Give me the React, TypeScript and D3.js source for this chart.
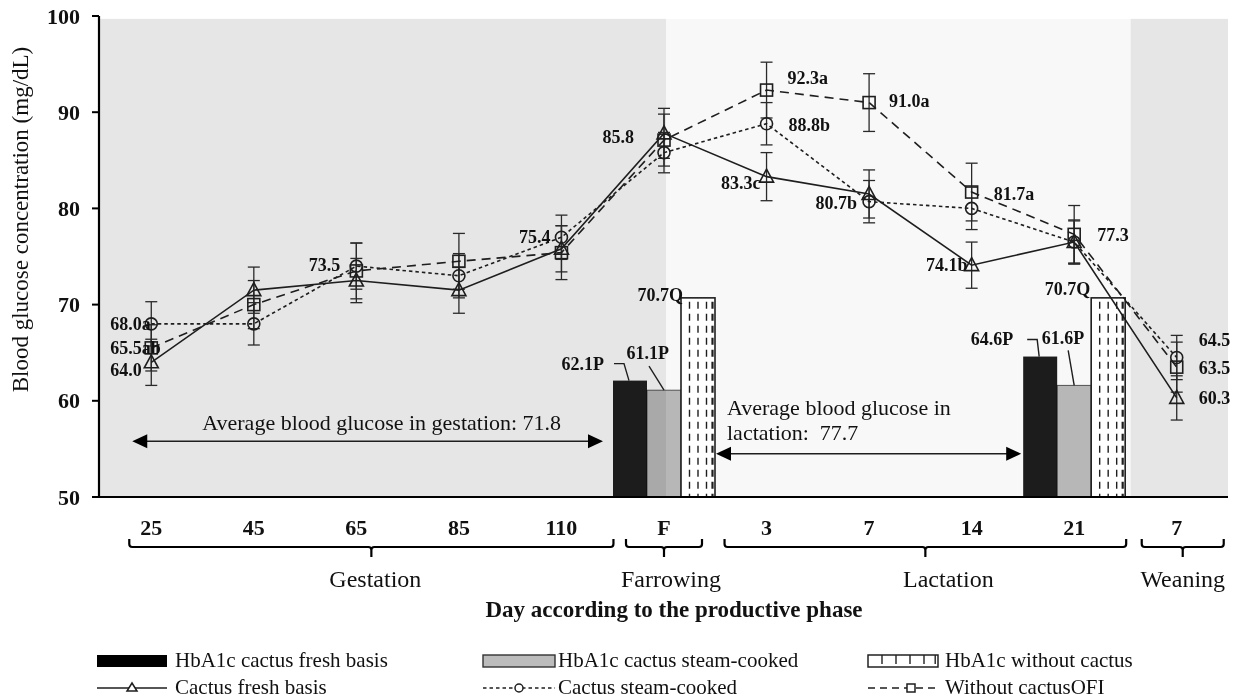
import React from "react";
import * as d3 from "d3";

// ---------- data ----------
const categories = ["25", "45", "65", "85", "110", "F", "3", "7", "14", "21", "7"];
const yTickValues = [50, 60, 70, 80, 90, 100];

const freshBasis = [64.0, 71.5, 72.5, 71.5, 75.8, 87.8, 83.3, 81.5, 74.1, 76.5, 60.3];
const freshErr = [2.4, 2.4, 2.3, 2.4, 2.4, 2.6, 2.5, 2.5, 2.4, 2.3, 2.3];
const steamCooked = [68.0, 68.0, 74.0, 73.0, 77.0, 85.8, 88.8, 80.7, 80.0, 76.5, 64.5];
const steamErr = [2.3, 2.2, 2.4, 2.3, 2.3, 2.1, 2.2, 2.2, 2.2, 2.2, 2.3];
const withoutCactus = [65.5, 70.0, 73.5, 74.5, 75.4, 87.1, 92.3, 91.0, 81.7, 77.3, 63.5];
const withoutErr = [2.4, 2.5, 2.9, 2.9, 2.8, 2.7, 2.9, 3.0, 3.0, 3.0, 2.6];

const hbaCategoryIdx = [5, 9];
const hbaFresh = [62.1, 64.6];
const hbaSteam = [61.1, 61.6];
const hbaWithout = [70.7, 70.7];
const hbaLabelsFresh = ["62.1P", "64.6P"];
const hbaLabelsSteam = ["61.1P", "61.6P"];
const hbaLabelsWithout = ["70.7Q", "70.7Q"];

const phaseNames = ["Gestation", "Farrowing", "Lactation", "Weaning"];
const phaseFirst = [0, 5, 6, 10];
const phaseLast = [4, 5, 9, 10];

const gestationAvg = "Average blood glucose in gestation: 71.8";
const lactationAvg1 = "Average blood glucose in";
const lactationAvg2 = "lactation:  77.7";

const pointLabelTexts = ["68.0a", "65.5ab", "64.0", "73.5", "75.4", "85.8", "92.3a", "88.8b", "83.3c", "91.0a", "80.7b", "81.7a", "74.1b", "77.3", "64.5", "63.5", "60.3"];
const pointLabelSeries = ["steam", "without", "fresh", "without", "without", "steam", "without", "steam", "fresh", "without", "steam", "without", "fresh", "without", "steam", "without", "fresh"];
const pointLabelIdx = [0, 0, 0, 2, 4, 5, 6, 6, 6, 7, 7, 8, 8, 9, 10, 10, 10];

// ---------- layout (offsets only) ----------
const labelLayout: [number, number, string][] = [
  [-41, 6, "start"], [-41, 6, "start"], [-41, 14, "start"], [-16, 0, "end"], [-11, -10, "end"],
  [-30, -10, "end"], [21, -6, "start"], [22, 7, "start"], [-6, 12, "end"], [20, 4, "start"],
  [-12, 7, "end"], [22, 8, "start"], [-4, 6, "end"], [23, 7, "start"], [22, -12, "start"],
  [22, 7, "start"], [22, 6, "start"],
];
const bracketPads: [number, number, number][] = [[22, 52, 4], [38, 38, 7], [42, 52, 23], [35, 47, 0]];

const W = 1246;
const H = 698;
const FONT = "'Liberation Serif', 'Times New Roman', serif";
const INK = "#1e1e1e";

function Marker({ kind, cx, cy }: { kind: string; cx: number; cy: number }) {
  if (kind === "fresh") {
    const s = 7;
    return <path d={`M${cx},${cy - 7.5} L${cx + s},${cy + 5.5} L${cx - s},${cy + 5.5} Z`} fill="none" stroke={INK} strokeWidth={1.6} />;
  }
  if (kind === "steam") return <circle cx={cx} cy={cy} r={6} fill="none" stroke={INK} strokeWidth={1.6} />;
  return <rect x={cx - 6} y={cy - 6} width={12} height={12} fill="none" stroke={INK} strokeWidth={1.6} />;
}

export default function App() {
  const x = d3.scalePoint<number>().domain(d3.range(categories.length)).range([100, 1228]).padding(0.5);
  const step = x.step();
  const y = d3.scaleLinear().domain([50, 100]).range([497, 16]);
  const X = (i: number) => x(i) as number;
  const plotLeft = 99;
  const plotRight = 1228;
  const bw = 34;

  const series = [
    { key: "fresh", values: freshBasis, err: freshErr, dash: undefined as string | undefined },
    { key: "steam", values: steamCooked, err: steamErr, dash: "3.5,3" },
    { key: "without", values: withoutCactus, err: withoutErr, dash: "9,6" },
  ];
  const seriesMap: Record<string, number[]> = { fresh: freshBasis, steam: steamCooked, without: withoutCactus };

  const line = d3.line<number>().x((_, i) => X(i)).y((d) => y(d));

  const lacStart = X(5) + 2;
  const weanStart = X(9) + step * 0.55;
  const shadeTop = y(99.7);

  const barLeft = (ci: number, s: number) => X(ci) - bw * 1.5 + s * bw;

  const gestArrowY = y(55.8);
  const lacArrowY = y(54.5);
  const gx1 = X(0) - 19;
  const gx2 = barLeft(5, 0) - 10;
  const lx1 = barLeft(5, 2) + bw + 1;
  const lx2 = barLeft(9, 0) - 2;
  const head = (tipX: number, yy: number, dir: number) =>
    `M${tipX},${yy} L${tipX - dir * 15},${yy - 7} L${tipX - dir * 15},${yy + 7} Z`;

  const dashedBar = (left: number, v: number, key: string) => {
    const top = y(v);
    const bottom = y(50);
    return (
      <g key={key}>
        <rect x={left} y={top} width={bw} height={bottom - top} fill="#ffffff" stroke={INK} strokeWidth={1.6} />
        {[0.25, 0.5, 0.75].map((f) => (
          <line key={f} x1={left + bw * f} x2={left + bw * f} y1={top + 4} y2={bottom} stroke={INK} strokeWidth={1.4} strokeDasharray="7,5" />
        ))}
        <line x1={left + bw - 2.5} x2={left + bw - 2.5} y1={top + 4} y2={bottom} stroke={INK} strokeWidth={2.2} strokeDasharray="7,5" />
      </g>
    );
  };

  const bracket = (x1: number, x2: number, mid: number) => {
    const yh = 547;
    return `M${x1},539 L${x1},544 Q${x1},${yh} ${x1 + 3},${yh} L${mid - 3},${yh} Q${mid},${yh} ${mid},${yh + 3} L${mid},557 M${mid},${yh + 3} Q${mid},${yh} ${mid + 3},${yh} L${x2 - 3},${yh} Q${x2},${yh} ${x2},544 L${x2},539`;
  };

  const legendTextStyle = { fontFamily: FONT, fontSize: 21, fill: "#111" };

  return (
    <svg width={W} height={H} style={{ position: "absolute", left: 0, top: 0, background: "#fff" }} fontFamily={FONT}>
      {/* background phases */}
      <rect x={plotLeft} y={shadeTop} width={lacStart - plotLeft} height={y(50) - shadeTop} fill="#e6e6e6" />
      <rect x={lacStart} y={shadeTop} width={weanStart - lacStart} height={y(50) - shadeTop} fill="#f8f8f8" />
      <rect x={weanStart} y={shadeTop} width={plotRight - weanStart} height={y(50) - shadeTop} fill="#e6e6e6" />

      {/* HbA1c bars */}
      {hbaCategoryIdx.map((ci, k) => {
        const l0 = barLeft(ci, 0);
        const l1 = barLeft(ci, 1);
        const l2 = barLeft(ci, 2);
        return (
          <g key={"bars" + k}>
            <rect x={l0} y={y(hbaFresh[k])} width={bw} height={y(50) - y(hbaFresh[k])} fill="#1c1c1c" />
            <rect x={l1} y={y(hbaSteam[k])} width={bw} height={y(50) - y(hbaSteam[k])} fill="#bcbcbc" stroke="#555" strokeWidth={1} style={{ mixBlendMode: "multiply" }} />
            {dashedBar(l2, hbaWithout[k], "d" + k)}
          </g>
        );
      })}

      {/* bar labels with leaders */}
      {hbaCategoryIdx.map((ci, k) => {
        const l0 = barLeft(ci, 0);
        const l1 = barLeft(ci, 1);
        const l2 = barLeft(ci, 2);
        const t0 = y(hbaFresh[k]);
        const t1 = y(hbaSteam[k]);
        const t2 = y(hbaWithout[k]);
        const first = k === 0;
        const steamTextDx = first ? 22 : 27;
        const steamTextDy = first ? -31 : -41;
        const steamLead = first ? [2, -24] : [11, -35];
        const fTextDx = first ? -9 : -10;
        const fTextDy = first ? -11 : -12;
        const lead0 = first ? 1 : 4;
        return (
          <g key={"bl" + k} fontWeight="bold" fontSize={18} fill="#111">
            <text x={l0 + fTextDx} y={t0 + fTextDy} textAnchor="end">{hbaLabelsFresh[k]}</text>
            <path d={`M${l0 + lead0},${t0 - 17} L${l0 + lead0 + 10},${t0 - 17} L${l0 + 16},${t0}`} fill="none" stroke={INK} strokeWidth={1.4} />
            <text x={l1 + steamTextDx} y={t1 + steamTextDy} textAnchor="end">{hbaLabelsSteam[k]}</text>
            <path d={`M${l1 + steamLead[0]},${t1 + steamLead[1]} L${l1 + 17},${t1}`} fill="none" stroke={INK} strokeWidth={1.4} />
            <text x={l2 + (first ? 2 : -1)} y={t2 + (first ? 3 : -3)} textAnchor="end">{hbaLabelsWithout[k]}</text>
          </g>
        );
      })}

      {/* axes */}
      <line x1={plotLeft} x2={plotLeft} y1={y(100)} y2={y(50)} stroke="#000" strokeWidth={2.2} />
      <line x1={plotLeft - 1} x2={plotRight} y1={y(50)} y2={y(50)} stroke="#000" strokeWidth={2.2} />
      {yTickValues.map((v) => (
        <g key={"yt" + v}>
          <line x1={plotLeft - 7} x2={plotLeft} y1={y(v)} y2={y(v)} stroke="#000" strokeWidth={2} />
          <text x={80} y={y(v) + 7.5} textAnchor="end" fontWeight="bold" fontSize={22} fill="#111">{v}</text>
        </g>
      ))}
      <text transform={`translate(28,${(y(100) + y(50)) / 2 - 37}) rotate(-90)`} textAnchor="middle" fontSize={23} fill="#111">
        Blood glucose concentration (mg/dL)
      </text>

      {/* arrows */}
      <line x1={gx1 + 10} x2={gx2 - 10} y1={gestArrowY} y2={gestArrowY} stroke={INK} strokeWidth={1.4} />
      <path d={head(gx1, gestArrowY, -1)} fill="#000" />
      <path d={head(gx2, gestArrowY, 1)} fill="#000" />
      <text x={X(0) + 51} y={gestArrowY - 11} fontSize={22} fill="#111">{gestationAvg}</text>
      <line x1={lx1 + 10} x2={lx2 - 10} y1={lacArrowY} y2={lacArrowY} stroke={INK} strokeWidth={1.4} />
      <path d={head(lx1, lacArrowY, -1)} fill="#000" />
      <path d={head(lx2, lacArrowY, 1)} fill="#000" />
      <text x={lx1 + 11} y={lacArrowY - 39} fontSize={22} fill="#111">{lactationAvg1}</text>
      <text x={lx1 + 11} y={lacArrowY - 14} fontSize={22} fill="#111" style={{ whiteSpace: "pre" }}>{lactationAvg2}</text>

      {/* error bars */}
      {series.map((s) =>
        s.values.map((v, i) => {
          const cx = X(i);
          const t = y(v + s.err[i]);
          const b = y(v - s.err[i]);
          return (
            <g key={s.key + "e" + i} stroke="#2a2a2a" strokeWidth={1.3}>
              <line x1={cx} x2={cx} y1={t} y2={b} />
              <line x1={cx - 6} x2={cx + 6} y1={t} y2={t} />
              <line x1={cx - 6} x2={cx + 6} y1={b} y2={b} />
            </g>
          );
        })
      )}

      {/* lines */}
      {series.map((s) => (
        <path key={s.key + "l"} d={line(s.values) || ""} fill="none" stroke={INK} strokeWidth={1.6} strokeDasharray={s.dash} />
      ))}
      {series.map((s) => s.values.map((v, i) => <Marker key={s.key + "m" + i} kind={s.key} cx={X(i)} cy={y(v)} />))}

      {/* point labels */}
      {pointLabelTexts.map((t, k) => {
        const i = pointLabelIdx[k];
        const v = seriesMap[pointLabelSeries[k]][i];
        const [dx, dy, anchor] = labelLayout[k];
        return (
          <text key={"pl" + k} x={X(i) + dx} y={y(v) + dy} textAnchor={anchor as any} fontWeight="bold" fontSize={18} fill="#111">{t}</text>
        );
      })}

      {/* x tick labels */}
      {categories.map((c, i) => (
        <text key={"xt" + i} x={X(i)} y={535} textAnchor="middle" fontWeight="bold" fontSize={22} fill="#111">{c}</text>
      ))}

      {/* phase brackets */}
      {phaseNames.map((n, k) => {
        const [pl, pr, ldx] = bracketPads[k];
        const x1 = X(phaseFirst[k]) - pl;
        const x2 = X(phaseLast[k]) + pr;
        const mid = (x1 + x2) / 2;
        return (
          <g key={"ph" + k}>
            <path d={bracket(x1, x2, mid)} fill="none" stroke="#000" strokeWidth={2.2} />
            <text x={mid + ldx} y={587} textAnchor="middle" fontSize={24} fill="#111">{n}</text>
          </g>
        );
      })}

      <text x={674} y={617} textAnchor="middle" fontWeight="bold" fontSize={23} fill="#111">Day according to the productive phase</text>

      {/* legend */}
      <g>
        <rect x={97} y={655} width={70} height={12} fill="#000" />
        <text x={175} y={667} {...legendTextStyle}>HbA1c cactus fresh basis</text>
        <rect x={483} y={655} width={72} height={12} fill="#bcbcbc" stroke="#333" strokeWidth={1.4} />
        <text x={558} y={667} {...legendTextStyle}>HbA1c cactus steam-cooked</text>
        <rect x={868} y={655} width={70} height={12} fill="#fff" stroke="#222" strokeWidth={1.5} />
        {[0.2, 0.4, 0.6, 0.8, 0.96].map((f) => (
          <line key={"lg" + f} x1={868 + 70 * f} x2={868 + 70 * f} y1={655} y2={664} stroke="#222" strokeWidth={1.4} />
        ))}
        <text x={945} y={667} {...legendTextStyle}>HbA1c without cactus</text>

        <line x1={97} x2={167} y1={688} y2={688} stroke={INK} strokeWidth={1.5} />
        <path d="M132,683 L137,691 L127,691 Z" fill="#fff" stroke={INK} strokeWidth={1.5} />
        <text x={175} y={694} {...legendTextStyle}>Cactus fresh basis</text>
        <line x1={483} x2={555} y1={688} y2={688} stroke={INK} strokeWidth={1.5} strokeDasharray="3.5,3" />
        <circle cx={519} cy={688} r={4} fill="#fff" stroke={INK} strokeWidth={1.5} />
        <text x={558} y={694} {...legendTextStyle}>Cactus steam-cooked</text>
        <line x1={868} x2={938} y1={688} y2={688} stroke={INK} strokeWidth={1.5} strokeDasharray="7,5" />
        <rect x={907} y={684} width={8} height={8} fill="#fff" stroke={INK} strokeWidth={1.5} />
        <text x={945} y={694} {...legendTextStyle}>Without cactusOFI</text>
      </g>
    </svg>
  );
}
